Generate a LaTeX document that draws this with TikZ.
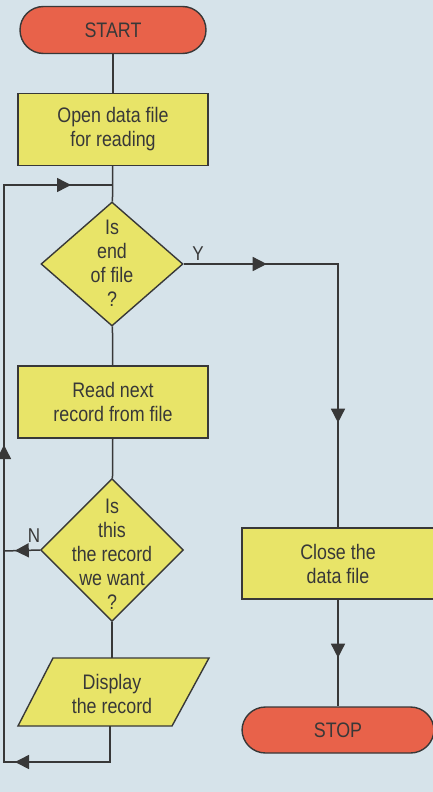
\documentclass[tikz,border=0pt]{standalone}
\usepackage{fontspec}
\setmainfont{Liberation Sans}[FakeStretch=0.85]
\usetikzlibrary{shapes.geometric,decorations.markings,arrows.meta,calc}
\definecolor{bg}{HTML}{D6E3EA}
\definecolor{termc}{HTML}{E8624A}
\definecolor{procc}{HTML}{E8E468}
\definecolor{ink}{HTML}{383838}
\begin{document}
\begin{tikzpicture}[x=1pt,y=-1pt,
  every node/.style={font=\fontsize{21}{24}\selectfont, text=ink, align=center},
  conn/.style={draw=ink, color=ink, line width=1.5pt},
  termbox/.style={draw=ink, line width=1.4pt, fill=termc, rounded corners=23.5pt, minimum width=186pt, minimum height=47pt, inner sep=0pt},
  procbox/.style={draw=ink, line width=1.4pt, fill=procc, minimum height=72pt, inner sep=0pt},
  decbox/.style={diamond, draw=ink, line width=1.4pt, fill=procc, inner sep=0pt},
  lbl/.style={font=\fontsize{20}{22}\selectfont},
  midarrow/.style={postaction={decorate}, decoration={markings, mark=at position #1 with {\arrow[ink]{Triangle[length=14pt,width=14pt]}}}},
  twoarrows/.style 2 args={postaction={decorate}, decoration={markings,
     mark=at position #1 with {\arrow[ink]{Triangle[length=14pt,width=14pt]}},
     mark=at position #2 with {\arrow[ink]{Triangle[length=14pt,width=14pt]}}}},
  threearrows/.style n args={3}{postaction={decorate}, decoration={markings,
     mark=at position #1 with {\arrow[ink]{Triangle[length=14pt,width=14pt]}},
     mark=at position #2 with {\arrow[ink]{Triangle[length=14pt,width=14pt]}},
     mark=at position #3 with {\arrow[ink]{Triangle[length=14pt,width=14pt]}}}}
]
\fill[bg] (0,0) rectangle (433,792);
\useasboundingbox (0,0) rectangle (433,792);

% main column
\node[termbox] (start) at (113,30) {START};
\node[procbox, minimum width=190pt] (open) at (113,129.5) {Open data file\\for reading};
\node[decbox, minimum width=142pt, minimum height=124pt] (d1) at (112,264) {};
\node (d1t) at (112,263) {Is\\end\\of file\\?};
\node[procbox, minimum width=190pt] (read) at (113,402) {Read next\\record from file};
\node[decbox, minimum width=143pt, minimum height=143pt] (d2) at (112,550) {};
\node (d2t) at (112,554) {Is\\this\\the record\\we want\\?};
\filldraw[draw=ink, line width=1.4pt, fill=procc] (53,658) -- (209,658) -- (172,726) -- (18,726) -- cycle;
\node (disp) at (112,694) {Display\\the record};
\coordinate (ptop) at (112,658);
\coordinate (pbot) at (110,726);

% right column
\node[procbox, minimum width=192pt, minimum height=71pt] (close) at (338,563.5) {Close the\\data file};
\node[termbox, minimum width=192pt, minimum height=46pt] (stop) at (338,730) {STOP};

% helper points
\coordinate (jn) at (112,185);
\coordinate (yc) at (338,264);
\coordinate (nc) at (4,551);
\coordinate (bl) at (4,762);
\coordinate (tl) at (4,185);

% labels
\node[lbl] (ylab) at (198,254) {Y};
\node[lbl] (nlab) at (34,536) {N};

% connectors
\draw[conn] (start) -- (open);
\draw[conn] (open) -- (d1);
\draw[conn] (d1) -- (read);
\draw[conn] (read) -- (d2);
\draw[conn] (d2) -- (ptop);
\draw[conn, twoarrows={83pt}{313pt}] (d1.east) -- (yc) -- (close.north);
\draw[conn, midarrow={58pt}] (close) -- (stop);
\draw[conn, midarrow={25pt}] (d2.west) -- (nc);
\draw[conn, threearrows={131pt}{459pt}{786pt}] (pbot) -- (pbot |- bl) -- (bl) -- (tl) -- (jn);
\end{tikzpicture}
\end{document}
